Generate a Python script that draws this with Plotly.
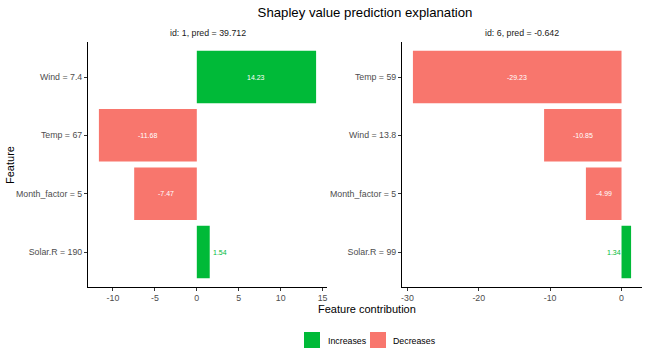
import plotly.graph_objects as go

# ---- data ----
left_features = ["Wind = 7.4", "Temp = 67", "Month_factor = 5", "Solar.R = 190"]
left_phi = [14.23, -11.68, -7.47, 1.54]
left_title = "id: 1, pred = 39.712"

right_features = ["Temp = 59", "Wind = 13.8", "Month_factor = 5", "Solar.R = 99"]
right_phi = [-29.23, -10.85, -4.99, 1.34]
right_title = "id: 6, pred = -0.642"

left_ticks = [-10, -5, 0, 5, 10, 15]
left_ticktext = ["-10", "-5", "0", "5", "10", "15"]
right_ticks = [-30, -20, -10, 0]
right_ticktext = ["-30", "-20", "-10", "0"]

legend_names = ["Increases", "Decreases"]

GREEN = "#00BA38"
RED = "#F8766D"
FONT = "Liberation Sans, Arial, sans-serif"
W, H = 648, 360

fig = go.Figure()

def add_panel(features, phi, xa, ya):
    pos_f = [f for f, v in zip(features, phi) if v > 0]
    pos_v = [v for v in phi if v > 0]
    neg_f = [f for f, v in zip(features, phi) if v <= 0]
    neg_v = [v for v in phi if v <= 0]
    fig.add_trace(go.Bar(y=pos_f, x=pos_v, orientation="h", marker_color=GREEN,
                         marker_line_width=0, width=0.9, name=legend_names[0],
                         showlegend=False, xaxis=xa, yaxis=ya))
    fig.add_trace(go.Bar(y=neg_f, x=neg_v, orientation="h", marker_color=RED,
                         marker_line_width=0, width=0.9, name=legend_names[1],
                         showlegend=False, xaxis=xa, yaxis=ya))

add_panel(left_features, left_phi, "x", "y")
add_panel(right_features, right_phi, "x2", "y2")

def px_x(p):
    return p / W

def px_y(p):
    return 1 - p / H

top, bottom = 42, 287
ax_common = dict(showline=True, linecolor="black", linewidth=1, ticks="outside",
                 ticklen=3, tickcolor="#333333", tickwidth=1, showgrid=False,
                 zeroline=False, automargin=False,
                 tickfont=dict(family=FONT, size=8.8, color="#4D4D4D"))

fig.update_layout(
    xaxis=dict(domain=[px_x(88), px_x(327)], range=[-12.98, 15.53], anchor="y",
               tickvals=left_ticks, ticktext=left_ticktext, ticklabelstandoff=-1,
               **ax_common),
    yaxis=dict(domain=[px_y(bottom), px_y(top)], anchor="x", type="category",
               categoryorder="array", categoryarray=left_features[::-1],
               range=[-0.6, 3.6], **ax_common),
    xaxis2=dict(domain=[px_x(402), px_x(642)], range=[-30.76, 2.87], anchor="y2",
                tickvals=right_ticks, ticktext=right_ticktext, ticklabelstandoff=-1,
                **ax_common),
    yaxis2=dict(domain=[px_y(bottom), px_y(top)], anchor="x2", type="category",
                categoryorder="array", categoryarray=right_features[::-1],
                range=[-0.6, 3.6], **ax_common),
)

ann = []
# bar value labels
def add_labels(features, phi, xref, yref):
    mx = max(abs(v) for v in phi)
    for f, v in zip(features, phi):
        if abs(v) > mx / 8:
            ann.append(dict(x=v / 2, y=f, xref=xref, yref=yref, text=f"{v:.2f}",
                            showarrow=False, font=dict(family=FONT, size=7, color="white"),
                            xanchor="center", yanchor="middle"))
        else:
            col = GREEN if v > 0 else RED
            if xref == "x":
                ann.append(dict(x=v, y=f, xref=xref, yref=yref, text=f"{v:.2f}",
                                showarrow=False, font=dict(family=FONT, size=7, color=col),
                                xanchor="left", yanchor="middle", xshift=1))
            else:
                ann.append(dict(x=0, y=f, xref=xref, yref=yref, text=f"{v:.2f}",
                                showarrow=False, font=dict(family=FONT, size=7, color=col),
                                xanchor="right", yanchor="middle", xshift=1))

add_labels(left_features, left_phi, "x", "y")
add_labels(right_features, right_phi, "x2", "y2")

# strip titles
ann.append(dict(x=px_x((88 + 327) / 2), y=px_y(33), xref="paper", yref="paper",
                text=left_title, showarrow=False, xanchor="center", yanchor="middle",
                font=dict(family=FONT, size=8.8, color="#1A1A1A")))
ann.append(dict(x=px_x((402 + 642) / 2), y=px_y(33), xref="paper", yref="paper",
                text=right_title, showarrow=False, xanchor="center", yanchor="middle",
                font=dict(family=FONT, size=8.8, color="#1A1A1A")))
# axis titles
ann.append(dict(x=px_x(367), y=px_y(309), xref="paper", yref="paper",
                text="Feature contribution", showarrow=False, xanchor="center",
                yanchor="middle", font=dict(family=FONT, size=11, color="black")))
ann.append(dict(x=px_x(10), y=px_y(165), xref="paper", yref="paper",
                text="Feature", showarrow=False, textangle=-90, xanchor="center",
                yanchor="middle", font=dict(family=FONT, size=11, color="black")))

# manual legend (ggplot-style keys)
shapes = []
legend_boxes = [(304, 320, GREEN), (370, 386, RED)]
legend_text_x = [326, 391]
for (x0, x1, col), tx, name in zip(legend_boxes, legend_text_x, legend_names):
    shapes.append(dict(type="rect", xref="paper", yref="paper",
                       x0=px_x(x0), x1=px_x(x1), y0=px_y(348), y1=px_y(332),
                       fillcolor=col, line=dict(width=0)))
    ann.append(dict(x=px_x(tx), y=px_y(340.5), xref="paper", yref="paper", text=name,
                    showarrow=False, xanchor="left", yanchor="middle",
                    font=dict(family=FONT, size=8.8, color="black")))

fig.update_layout(
    width=W, height=H,
    margin=dict(l=0, r=0, t=0, b=0),
    paper_bgcolor="white", plot_bgcolor="white",
    title=dict(text="Shapley value prediction explanation", x=px_x(365), xanchor="center",
               y=px_y(12), yanchor="middle", automargin=False,
               font=dict(family=FONT, size=13.2, color="black")),
    annotations=ann,
    shapes=shapes,
    barmode="overlay",
    showlegend=False,
    font=dict(family=FONT),
)

fig.write_html("out.html", config={"displayModeBar": False},
               post_script="document.body.style.margin='0';document.body.style.overflow='hidden';")
